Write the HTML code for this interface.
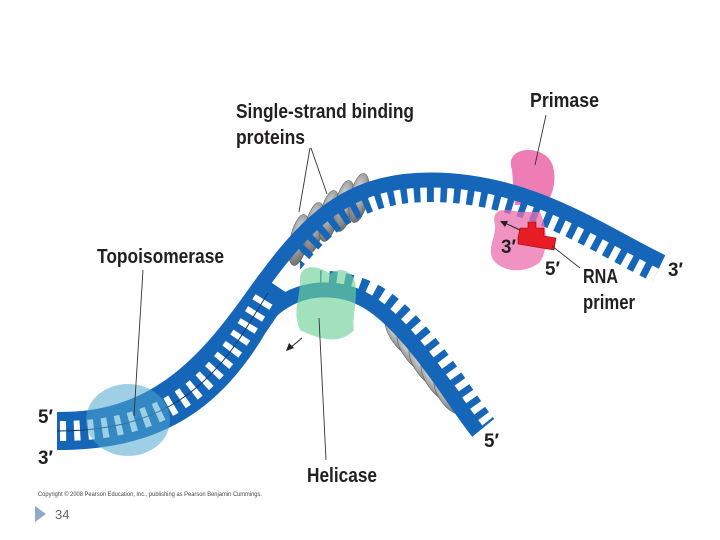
<!DOCTYPE html>
<html><head><meta charset="utf-8"><style>
body{margin:0;background:#fff;width:720px;height:540px;overflow:hidden}
svg{display:block}
.l{font-family:"Liberation Sans",sans-serif;font-weight:bold;font-size:20px;fill:#231f20}
.p{font-family:"Liberation Sans",sans-serif;font-weight:bold;font-size:19px;fill:#231f20}
</style></head><body>
<svg width="720" height="540" viewBox="0 0 720 540">
<defs>
<radialGradient id="gr" cx="0.4" cy="0.35" r="0.7"><stop offset="0" stop-color="#dcdcdc"/><stop offset="1" stop-color="#6a6a6a"/></radialGradient>
<clipPath id="ctop"><path d="M292,242 C318,206 350,180 430,180 C530,180 600,232 662,262 L720,300 L720,540 L300,540 L300,250 Z"/></clipPath>
<clipPath id="cbot"><path d="M320,290 C355,288 380,305 410,340 C440,375 460,410 478,432 L720,432 L720,0 L320,0 Z"/></clipPath>
</defs>
<!-- SSB -->
<g fill="url(#gr)" stroke="#555" stroke-width="0.5">
<ellipse cx="299" cy="240" rx="9" ry="26" transform="rotate(12 299 240)"/>
<ellipse cx="314" cy="228" rx="9" ry="26" transform="rotate(12 314 228)"/>
<ellipse cx="329" cy="216" rx="9" ry="26" transform="rotate(12 329 216)"/>
<ellipse cx="344" cy="206" rx="9" ry="26" transform="rotate(12 344 206)"/>
<ellipse cx="359" cy="198" rx="9" ry="25" transform="rotate(12 359 198)"/>
<ellipse cx="401" cy="336" rx="10" ry="24" transform="rotate(-35 401 336)"/>
<ellipse cx="413" cy="351" rx="10" ry="24" transform="rotate(-35 413 351)"/>
<ellipse cx="425" cy="366" rx="10" ry="24" transform="rotate(-35 425 366)"/>
<ellipse cx="437" cy="381" rx="10" ry="24" transform="rotate(-35 437 381)"/>
<ellipse cx="449" cy="395" rx="10" ry="22" transform="rotate(-35 449 395)"/>
</g>
<!-- primase top -->
<path d="M512,170 C505,150 530,145 545,155 C560,165 555,195 545,205 L515,205 Z" fill="#ec6fae" opacity="0.9"/>
<!-- double region -->
<path d="M57,431 C150,431 205,398 250,322 L275,285" stroke="#1565b8" stroke-width="38" fill="none"/>
<!-- top strand -->
<path d="M57,420 C150,420 200,370 250,300 C300,230 340,180 430,180 C530,180 600,232 662,262" stroke="#1565b8" stroke-width="15" fill="none"/>
<path clip-path="url(#ctop)" d="M57,420 C150,420 200,370 250,300 C300,230 340,180 430,180 C530,180 600,232 662,262" stroke="#1565b8" stroke-width="44" stroke-dasharray="7 7" fill="none"/>
<!-- bottom strand -->
<path d="M57,442 C150,442 205,400 245,342 C268,308 290,292 320,290 C355,288 380,305 410,340 C440,375 460,410 478,432" stroke="#1565b8" stroke-width="15" fill="none"/>
<path clip-path="url(#cbot)" d="M300,292 C355,288 380,305 410,340 C440,375 460,410 478,432" stroke="#1565b8" stroke-width="42" stroke-dasharray="7 7" fill="none"/>
<!-- rungs -->
<path d="M60,431 C150,431 205,398 250,322 L268,293" stroke="#fff" stroke-width="20" stroke-dasharray="6 8" fill="none"/>
<path d="M57,431 C150,431 205,398 250,322 L268,293" stroke="#0d3a6b" stroke-width="1" fill="none"/>
<!-- topoisomerase -->
<ellipse cx="128" cy="420" rx="42" ry="36" fill="#4fa8cf" opacity="0.55"/>
<!-- helicase -->
<path d="M300,280 C300,262 320,266 330,274 C340,266 356,270 356,290 C356,310 352,318 354,330 C340,345 320,340 300,330 C292,310 300,300 300,280Z" fill="#6fd39a" opacity="0.65"/>
<!-- primase bottom -->
<path d="M495,225 C490,205 510,210 520,212 L540,212 C548,230 548,250 540,262 C525,275 500,272 492,258 C488,245 496,238 495,225Z" fill="#ec6fae" opacity="0.75"/>
<!-- RNA primer -->
<path d="M518,238 L520,228 L528,228 L528,222 L536,222 L536,228 L544,228 L544,236 L556,238 L554,250 L518,244 Z" fill="#e81c24" stroke="#900" stroke-width="0.6"/>
<!-- arrows -->
<line x1="520" y1="230" x2="505" y2="223" stroke="#222" stroke-width="1"/><path d="M500,221 L508,221 L505,227Z" fill="#222"/>
<line x1="302" y1="338" x2="290" y2="348" stroke="#222" stroke-width="1"/><path d="M286,351 L289,343 L294,348Z" fill="#222"/>
<!-- leaders -->
<g stroke="#333" stroke-width="0.9">
<line x1="310" y1="148" x2="299" y2="212"/>
<line x1="311" y1="148" x2="327" y2="194"/>
<line x1="546" y1="115" x2="535" y2="165"/>
<line x1="143" y1="270" x2="134" y2="416"/>
<line x1="319" y1="318" x2="326" y2="460"/>
<line x1="552" y1="246" x2="580" y2="268"/>
</g>
<!-- labels -->
<text class="l" x="236" y="118" textLength="178" lengthAdjust="spacingAndGlyphs">Single-strand binding</text>
<text class="l" x="236" y="144" textLength="69" lengthAdjust="spacingAndGlyphs">proteins</text>
<text class="l" x="530" y="107" textLength="69" lengthAdjust="spacingAndGlyphs">Primase</text>
<text class="l" x="97" y="263" textLength="127" lengthAdjust="spacingAndGlyphs">Topoisomerase</text>
<text class="l" x="307" y="482" textLength="70" lengthAdjust="spacingAndGlyphs">Helicase</text>
<text class="l" x="583" y="283" textLength="35" lengthAdjust="spacingAndGlyphs">RNA</text>
<text class="l" x="583" y="309" textLength="52" lengthAdjust="spacingAndGlyphs">primer</text>
<text class="p" x="38" y="423" textLength="15" lengthAdjust="spacingAndGlyphs">5′</text>
<text class="p" x="38" y="464" textLength="15" lengthAdjust="spacingAndGlyphs">3′</text>
<text class="p" x="501" y="253" textLength="15" lengthAdjust="spacingAndGlyphs">3′</text>
<text class="p" x="545" y="275" textLength="15" lengthAdjust="spacingAndGlyphs">5′</text>
<text class="p" x="668" y="276" textLength="15" lengthAdjust="spacingAndGlyphs">3′</text>
<text class="p" x="484" y="447" textLength="15" lengthAdjust="spacingAndGlyphs">5′</text>
<text x="38" y="496" font-family="Liberation Sans,sans-serif" font-size="6" fill="#444" textLength="224" lengthAdjust="spacingAndGlyphs">Copyright © 2008 Pearson Education, Inc., publishing as Pearson Benjamin Cummings.</text>
<path d="M35,506 L46,514 L35,522Z" fill="#8ea9c9"/>
<text x="55" y="519" font-family="Liberation Sans,sans-serif" font-size="13" fill="#666">34</text>
</svg>
</body></html>
